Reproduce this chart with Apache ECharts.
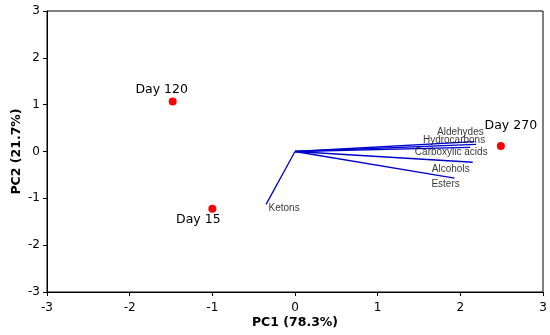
<!DOCTYPE html>
<html><head><meta charset="utf-8">
<script src="https://cdn.jsdelivr.net/npm/echarts@6/dist/echarts.min.js"></script>
<style>html,body{margin:0;padding:0;background:#fff}#c{width:550px;height:335px}</style>
</head><body><div id="c"></div>
<script>
var sampleNames = ['Day 120', 'Day 15', 'Day 270'];
var samplePC1 = [-1.48, -1.00, 2.49];
var samplePC2 = [1.07, -1.22, 0.12];

var loadingNames = ['Aldehydes', 'Hydrocarbons', 'Carboxylic acids', 'Alcohols', 'Esters', 'Ketons'];
var loadingPC1 = [2.17, 2.19, 2.12, 2.15, 1.93, -0.35];
var loadingPC2 = [0.21, 0.15, 0.09, -0.23, -0.57, -1.13];

var ticks = [-3, -2, -1, 0, 1, 2, 3];

var sampleLabelOffsets = [[-11, -12], [-14, 11], [10, -20]];
var loadingLabelOffsets = [[-14, -9], [-22, -4], [-19, 5], [-22, 7], [-9, 6], [18, 4]];

var series = [];
loadingNames.forEach(function (n, i) {
  series.push({
    type: 'line',
    name: n,
    symbol: 'none',
    silent: true,
    lineStyle: {color: '#0000cc', width: 1.3},
    data: [[0, 0], [loadingPC1[i], loadingPC2[i]]],
    z: 2
  });
});
series.push({
  type: 'scatter',
  symbolSize: 1,
  silent: true,
  itemStyle: {color: 'rgba(0,0,0,0)'},
  label: {show: true},
  data: loadingNames.map(function (n, i) {
    return {value: [loadingPC1[i], loadingPC2[i]], label: {
      show: true, formatter: n, position: 'inside', offset: loadingLabelOffsets[i],
      fontFamily: 'Liberation Sans, Arial, sans-serif', fontSize: 10, color: '#000'
    }};
  }),
  z: 4
});
series.push({
  type: 'scatter',
  symbolSize: 8,
  itemStyle: {color: '#ff0000', opacity: 1},
  data: sampleNames.map(function (n, i) {
    return {value: [samplePC1[i], samplePC2[i]], label: {
      show: true, formatter: n, position: 'inside', offset: sampleLabelOffsets[i],
      fontFamily: 'DejaVu Sans, Verdana, sans-serif', fontSize: 12.5, color: '#000'
    }};
  }),
  z: 3
});

var chart = echarts.init(document.getElementById('c'), null, {renderer: 'canvas'});
chart.setOption({
  animation: false,
  grid: {left: 47, right: 7, top: 11, bottom: 43, show: true, borderColor: '#000', borderWidth: 1,
         backgroundColor: 'transparent', containLabel: false, outerBoundsMode: 'none'},
  xAxis: {
    type: 'value', min: ticks[0], max: ticks[ticks.length - 1], interval: 1,
    name: 'PC1 (78.3%)', nameLocation: 'middle', nameGap: 24, nameMoveOverlap: false,
    nameTextStyle: {fontFamily: 'DejaVu Sans, Verdana, sans-serif', fontWeight: 'bold', fontSize: 12.5, color: '#000'},
    axisLine: {show: true, onZero: false, lineStyle: {color: '#000', width: 1}},
    axisTick: {show: true, length: 4, lineStyle: {color: '#000'}},
    axisLabel: {fontFamily: 'DejaVu Sans, Verdana, sans-serif', fontSize: 12, color: '#000', margin: 10},
    splitLine: {show: false}
  },
  yAxis: {
    type: 'value', min: ticks[0], max: ticks[ticks.length - 1], interval: 1,
    name: 'PC2 (21.7%)', nameLocation: 'middle', nameGap: 24, nameRotate: 90, nameMoveOverlap: false,
    nameTextStyle: {fontFamily: 'DejaVu Sans, Verdana, sans-serif', fontWeight: 'bold', fontSize: 12.5, color: '#000'},
    axisLine: {show: true, onZero: false, lineStyle: {color: '#000', width: 1}},
    axisTick: {show: true, length: 4, lineStyle: {color: '#000'}},
    axisLabel: {fontFamily: 'DejaVu Sans, Verdana, sans-serif', fontSize: 12, color: '#000', margin: 7},
    splitLine: {show: false}
  },
  series: series
});
</script>
</body></html>
